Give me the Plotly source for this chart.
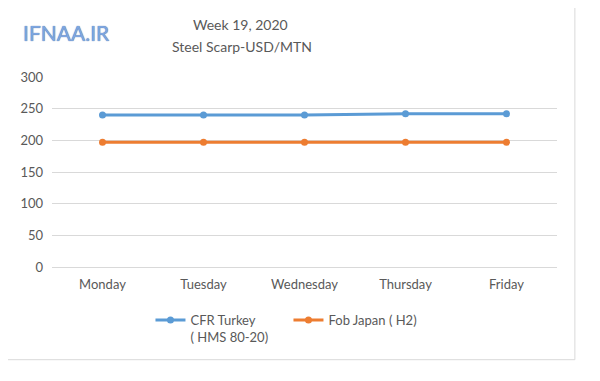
import plotly.graph_objects as go

days = ["Monday", "Tuesday", "Wednesday", "Thursday", "Friday"]
cfr_turkey = [240, 240, 240, 242, 242]
fob_japan = [197, 197, 197, 197, 197]
y_ticks = [0, 50, 100, 150, 200, 250, 300]

FONT = "Lato, Carlito, Calibri, sans-serif"
GREY = "#595959"

fig = go.Figure()
fig.add_trace(go.Scatter(
    x=days, y=cfr_turkey, mode="lines+markers",
    name="CFR Turkey<br>( HMS 80-20)",
    line=dict(color="#5b9bd5", width=3),
    marker=dict(color="#5b9bd5", size=7),
))
fig.add_trace(go.Scatter(
    x=days, y=fob_japan, mode="lines+markers",
    name="Fob Japan ( H2)",
    line=dict(color="#ed7d31", width=3),
    marker=dict(color="#ed7d31", size=7),
))

fig.update_layout(
    width=600, height=381,
    margin=dict(l=40, r=51, t=69, b=122),
    paper_bgcolor="white", plot_bgcolor="white",
    font=dict(family=FONT, size=13, color=GREY),
    showlegend=True,
    legend=dict(
        orientation="h", x=0.195, y=-0.2, xanchor="left", yanchor="top",
        font=dict(family=FONT, size=13, color=GREY),
        entrywidth=93, entrywidthmode="pixels",
        valign="top",
    ),
    xaxis=dict(
        range=[-0.5, 4.5],
        showgrid=False, zeroline=False, showline=False,
        ticks="", ticklabelstandoff=8,
        tickfont=dict(family=FONT, size=13, color=GREY),
    ),
    yaxis=dict(
        range=[0, 300], tickvals=y_ticks, showgrid=True,
        gridcolor="#d9d9d9", gridwidth=1, zeroline=True,
        zerolinecolor="#d9d9d9", zerolinewidth=1, showline=False,
        ticks="", ticklabelstandoff=8,
        tickfont=dict(family=FONT, size=13, color=GREY),
    ),
    shapes=[dict(
        type="rect", xref="paper", yref="paper",
        x0=-0.0904, x1=1.0354, y0=-0.4879, y1=1.4016,
        line=dict(color="#d9d9d9", width=1), fillcolor="rgba(0,0,0,0)",
        layer="below",
    )],
    annotations=[
        dict(text="Week 19, 2020", xref="paper", yref="paper",
             x=(238 - 48) / 509, y=(267.3 - 25) / 190, showarrow=False,
             xanchor="center", yanchor="middle",
             font=dict(family=FONT, size=14, color=GREY)),
        dict(text="Steel Scarp-USD/MTN", xref="paper", yref="paper",
             x=(240 - 48) / 509, y=(267.3 - 47) / 190, showarrow=False,
             xanchor="center", yanchor="middle",
             font=dict(family=FONT, size=14, color=GREY)),
        dict(text="IFNAA.IR", xref="paper", yref="paper",
             x=(63 - 48) / 509, y=(267.3 - 33) / 190, showarrow=False,
             xanchor="center", yanchor="middle",
             font=dict(family=FONT, size=21, color="#7ea6e0",
                       shadow="0px 0px 1px #2f5597")),
    ],
)

fig.write_html("out.html")
